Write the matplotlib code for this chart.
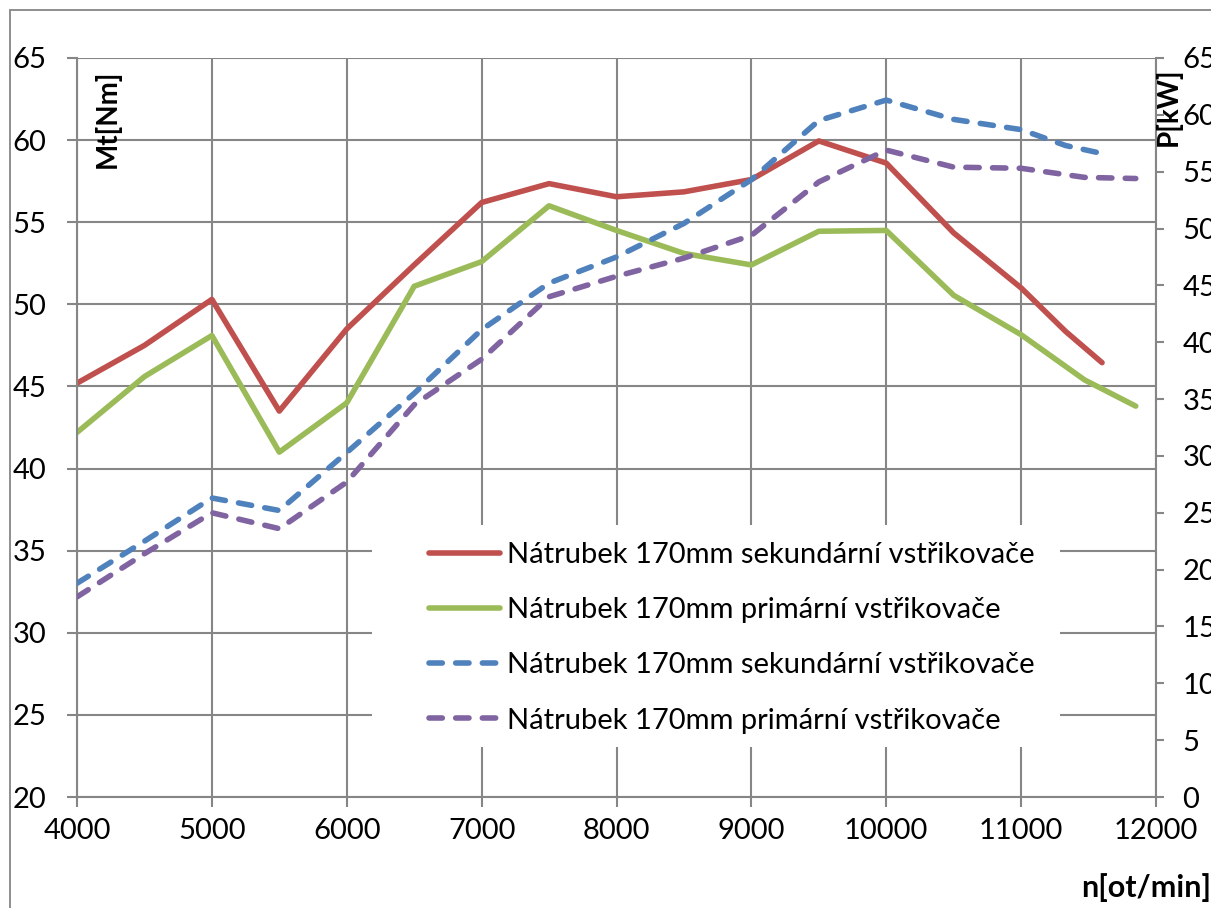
import matplotlib
matplotlib.use('Agg')
import matplotlib.pyplot as plt
from matplotlib.patches import Rectangle

# Otacky - sekundarni vstrikovace (cervena + modra)
otacky_sek = [4000, 4500, 5000, 5500, 6000, 6500, 7000, 7500, 8000, 8500,
              9000, 9500, 10000, 10500, 11000, 11330, 11600]
mt_sek = [45.2, 47.5, 50.3, 43.5, 48.5, 52.4, 56.2, 57.35, 56.55, 56.85,
          57.6, 59.95, 58.6, 54.35, 51.0, 48.35, 46.45]
p_sek = [18.8, 22.5, 26.3, 25.2, 30.3, 35.5, 41.1, 45.2, 47.5, 50.45,
         54.3, 59.5, 61.3, 59.6, 58.7, 57.3, 56.6]

# Otacky - primarni vstrikovace (zelena + fialova)
otacky_prim = [4000, 4500, 5000, 5500, 6000, 6500, 7000, 7500, 8000, 8500,
               9000, 9500, 10000, 10500, 11000, 11470, 11850]
mt_prim = [42.2, 45.6, 48.1, 41.0, 44.0, 51.1, 52.6, 56.0, 54.5, 53.1,
           52.4, 54.45, 54.5, 50.55, 48.15, 45.4, 43.8]
p_prim = [17.6, 21.4, 25.0, 23.6, 27.7, 34.5, 38.5, 44.0, 45.8, 47.4,
          49.4, 54.1, 56.9, 55.4, 55.3, 54.5, 54.4]

popisky = ["Nátrubek 170mm sekundární vstřikovače",
           "Nátrubek 170mm primární vstřikovače",
           "Nátrubek 170mm sekundární vstřikovače",
           "Nátrubek 170mm primární vstřikovače"]

SEDA = '#868686'
CERVENA = '#C0504D'
ZELENA = '#9BBB59'
MODRA = '#4F81BD'
FIALOVA = '#8064A2'
FONT = 21
SIRKA = 4.0
CARKY = (0, (2.4, 2.4))


def main():
    plt.rcParams['font.family'] = ['Lato', 'DejaVu Sans']

    W, H = 1211, 908
    fig = plt.figure(figsize=(W / 100, H / 100), dpi=100)
    ax = fig.add_axes([77 / W, 1 - 797 / H, (1156 - 77) / W, (797 - 58) / H])
    ax2 = ax.twinx()

    # ramecek grafu (jen levy a horni okraj je videt)
    fig.patches.append(Rectangle((10 / W, -0.2), 1.5, 1 - 10 / H + 0.2,
                                 transform=fig.transFigure, fill=False,
                                 edgecolor=SEDA, linewidth=1.3))

    # bily podklad legendy prekryva mrizku
    ax2.add_patch(Rectangle((372 / W, 1 - 747 / H), (1060 - 372) / W, (747 - 525) / H,
                            transform=fig.transFigure, facecolor='white',
                            edgecolor='none', zorder=0.5))

    l1, = ax.plot(otacky_sek, mt_sek, color=CERVENA, lw=SIRKA, solid_capstyle='round')
    l2, = ax.plot(otacky_prim, mt_prim, color=ZELENA, lw=SIRKA, solid_capstyle='round')
    l3, = ax2.plot(otacky_sek, p_sek, color=MODRA, lw=SIRKA, linestyle=CARKY,
                   dash_capstyle='round')
    l4, = ax2.plot(otacky_prim, p_prim, color=FIALOVA, lw=SIRKA, linestyle=CARKY,
                   dash_capstyle='round')

    ax.set_xlim(4000, 12000)
    ax.set_ylim(20, 65)
    ax2.set_ylim(0, 65)
    ax.set_xticks(range(4000, 12001, 1000))
    ax.set_yticks(range(20, 66, 5))
    ax2.set_yticks(range(0, 66, 5))

    ax.grid(True, color=SEDA, linewidth=1.5)
    ax.set_axisbelow(True)
    for a in (ax, ax2):
        for s in a.spines.values():
            s.set_visible(False)
    ax.spines['left'].set_visible(True)
    ax.spines['bottom'].set_visible(True)
    ax2.spines['right'].set_visible(True)
    for s in ('left', 'bottom'):
        ax.spines[s].set_color(SEDA)
        ax.spines[s].set_linewidth(1.5)
    ax2.spines['right'].set_color(SEDA)
    ax2.spines['right'].set_linewidth(1.5)

    ax.tick_params(axis='y', length=7, width=1.5, color=SEDA, labelsize=FONT, pad=15)
    ax.tick_params(axis='x', length=7, width=1.5, color=SEDA, labelsize=FONT, pad=8)
    # popisky prave osy jsou v originale oriznute okrajem obrazku
    ax2.tick_params(axis='y', length=6, width=1.5, color=SEDA, labelsize=FONT, pad=13)

    fig.text(107 / W, 1 - 70 / H, "Mt[Nm]", rotation=90, ha='center', va='top',
             fontsize=20, fontweight='bold')
    fig.text(1168 / W, 1 - 68 / H, "P[kW]", rotation=90, ha='center', va='top',
             fontsize=20, fontweight='bold')
    fig.text(1211 / W, 1 - 888 / H, "n[ot/min]", ha='right', va='center',
             fontsize=22, fontweight='bold')

    leg = ax2.legend([l1, l2, l3, l4], popisky, loc='upper left',
                     bbox_to_anchor=(429 / W, 1 - 542 / H), bbox_transform=fig.transFigure,
                     fontsize=FONT, frameon=False,
                     handlelength=2.43, handletextpad=0.24, labelspacing=1.0,
                     borderpad=0, borderaxespad=0)

    plt.savefig("out.png", dpi=100)


if __name__ == '__main__':
    main()
